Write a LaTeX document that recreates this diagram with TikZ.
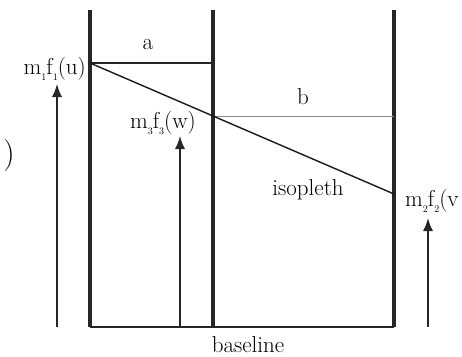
\documentclass[tikz,border=0pt]{standalone}
\usetikzlibrary{arrows.meta}
\newcommand{\sbx}[1]{\raisebox{-0.25em}{\fontsize{10}{11}\selectfont #1}}
\begin{document}
\begin{tikzpicture}[x=1pt,y=-1pt,
  axis/.style={line width=3.5pt,draw=black!85},
  thin/.style={line width=1.6pt,draw=black!85},
  up/.style={line width=1.5pt,draw=black!85,-{Latex[length=13pt,width=10pt]}},
  lbl/.style={font=\fontsize{23}{26}\selectfont,inner sep=0pt}]
\useasboundingbox (0,0) rectangle (462,356);
\coordinate (L0) at (90,327); \coordinate (L1) at (90,10);
\coordinate (M0) at (213,327); \coordinate (M1) at (213,10);
\coordinate (R0) at (394,327); \coordinate (R1) at (394,10);
\coordinate (P) at (90,63); \coordinate (Pa) at (213,63);
\coordinate (Q) at (394,194);
\coordinate (X) at (213,116.5); \coordinate (Xb) at (394,116.5);
\draw[thin] (L0) -- (R0);
\draw[axis] (L0) -- (L1);
\draw[axis] (M0) -- (M1);
\draw[axis] (R0) -- (R1);
\draw[thin,line width=1.8pt] (P) -- (Pa);
\draw[line width=1.5pt,draw=black!45] (X) -- (Xb);
\draw[line width=1.4pt,draw=black!90] (P) -- (Q);
\coordinate (A0) at (57,327); \coordinate (A1) at (57,84);
\coordinate (B0) at (180,327); \coordinate (B1) at (180,136);
\coordinate (C0) at (428,327); \coordinate (C1) at (428,218);
\draw[up] (A0) -- (A1);
\draw[up] (B0) -- (B1);
\draw[up] (C0) -- (C1);
\node[lbl,anchor=east] (tu) at (86,69) {m\sbx{1}f\sbx{1}(u)};
\node[lbl] (tw) at (163,123) {m\sbx{3}f\sbx{3}(w)};
\node[lbl,anchor=west] (tv) at (405,201) {m\sbx{2}f\sbx{2}(v};
\node[lbl] (ta) at (148,45) {a};
\node[lbl] (tb) at (303,97) {b};
\node[lbl] (ti) at (308,190) {isopleth};
\node[lbl] (tbl) at (248,345) {baseline};
\node[lbl,font=\fontsize{32}{34}\selectfont] (tp) at (9,156) {)};
\end{tikzpicture}
\end{document}
